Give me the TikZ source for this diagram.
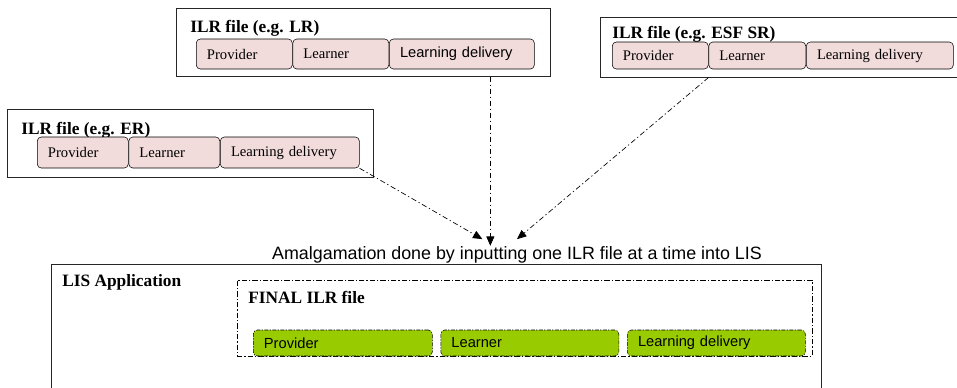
\documentclass[tikz,border=0pt]{standalone}
\usepackage{fontspec}
\setmainfont{Liberation Serif}
\setsansfont{Liberation Sans}
\usetikzlibrary{arrows.meta}
\usetikzlibrary{positioning}

\definecolor{ilrpink}{RGB}{242,220,219}
\definecolor{lisgreen}{RGB}{153,204,0}

\tikzset{
  filebox/.style={draw=black!85, line width=0.75pt, inner sep=0pt},
  title/.style={anchor=base west, inner sep=0pt, font=\fontsize{13}{15}\selectfont\bfseries},
  part/.style={draw, rounded corners=3pt, fill=ilrpink, text width=#1, inner xsep=8pt, inner ysep=0pt, align=left, anchor=west, font=\fontsize{11}{13}\selectfont},
  finalpart/.style={part=#1, fill=lisgreen, dash pattern=on 3pt off 1pt on 1pt off 1pt, font=\fontsize{11}{13}\selectfont\sffamily},
  feed/.style={-{Triangle[length=7pt,width=6pt]}, dash pattern=on 4pt off 2pt on 1pt off 2pt, line width=0.5pt},
}

\begin{document}
\begin{tikzpicture}[x=0.75pt,y=-0.75pt]
\clip (0,0) rectangle (957,387);

% ILR file (e.g. LR)
\node[filebox, minimum width=280.5pt, minimum height=51pt] (lr) at (363,42) {};
\node[title] (lrtitle) at (190,32) {ILR file (e.g. LR)};
\node[part=56pt, minimum height=22.5pt] (lrpr) at (196,54) {Provider};
\node[part=56pt, minimum height=22.5pt, right=0pt of lrpr] (lrle) {Learner};
\node[part=92.75pt, minimum height=22.5pt, right=0pt of lrle, font=\fontsize{11}{13}\selectfont\sffamily] (lrld) {Learning delivery};

% ILR file (e.g. ESF SR)
\node[filebox, minimum width=273.75pt, minimum height=45pt] (esf) at (782.5,47) {};
\node[title] (esftitle) at (612,38) {ILR file (e.g. ESF SR)};
\node[part=56pt, minimum height=20.25pt] (esfpr) at (612,55.5) {Provider};
\node[part=56.75pt, minimum height=20.25pt, right=0pt of esfpr] (esfle) {Learner};
\node[part=94.25pt, minimum height=20.25pt, right=0pt of esfle] (esfld) {Learning delivery};

% ILR file (e.g. ER)
\node[filebox, minimum width=274.5pt, minimum height=51pt] (er) at (190,143) {};
\node[title] (ertitle) at (21,134) {ILR file (e.g. ER)};
\node[part=52.25pt, minimum height=23.25pt] (erpr) at (37,152.5) {Provider};
\node[part=52.25pt, minimum height=23.25pt, right=0pt of erpr] (erle) {Learner};
\node[part=88.25pt, minimum height=23.25pt, right=0pt of erle] (erld) {Learning delivery};

% LIS
\node[filebox, minimum width=577.5pt, minimum height=102pt] (lis) at (436,332) {};
\node[title] (listitle) at (62,286) {LIS Application};
\node[draw, inner sep=0pt, line width=0.5pt, dash pattern=on 4pt off 1.5pt on 1pt off 1.5pt, minimum width=431.25pt, minimum height=57pt] (final) at (524.5,318) {};
\node[title] (finaltitle) at (248,303) {FINAL ILR file};
\node[finalpart=118.25pt, minimum height=19.5pt] (finpr) at (253,343) {Provider};
\node[finalpart=117.5pt, minimum height=19.5pt, right=6pt of finpr] (finle) {Learner};
\node[finalpart=117.5pt, minimum height=19.5pt, right=6pt of finle] (finld) {Learning delivery};

\node[anchor=base, inner sep=0pt, font=\fontsize{13.4}{15}\selectfont\sffamily] (amalg) at (517,259) {Amalgamation done by inputting one ILR file at a time into LIS};

\coordinate (inM) at ([xshift=-20pt]amalg.north);
\coordinate (inL) at ([xshift=-26pt,yshift=5pt]amalg.north);
\coordinate (inR) at ([yshift=5pt]amalg.north);

\draw[feed] (lr.south -| inM) -- (inM);
\draw[feed] (erld.south east) -- (inL);
\draw[feed] (esf.south -| esfpr.east) -- (inR);

\end{tikzpicture}
\end{document}
